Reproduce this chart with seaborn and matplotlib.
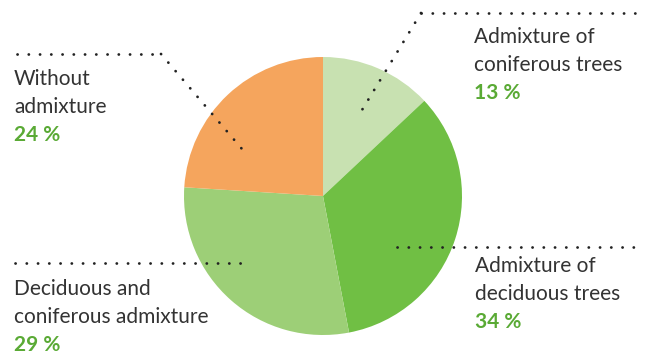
import matplotlib
matplotlib.use("Agg")
import matplotlib.pyplot as plt
import seaborn as sns

# Forest admixture shares (percent)
categories = ["Admixture of\nconiferous trees", "Admixture of\ndeciduous trees",
              "Deciduous and\nconiferous admixture", "Without\nadmixture"]
shares = [13, 34, 29, 24]
pct_labels = [f"{v} %" for v in shares]

sns.set_theme(style="white")
plt.rcParams["font.family"] = ["Lato", "DejaVu Sans"]
plt.rcParams["lines.scale_dashes"] = False

colors = ["#c8e1b1", "#70bf44", "#9dcf77", "#f5a55d"]
text_col = "#333333"
pct_col = "#5aaa35"

W, H = 646, 354
fig = plt.figure(figsize=(W / 100, H / 100), dpi=100)
ax = fig.add_axes([0, 0, 1, 1])

def Y(py):
    return H - py

ax.pie(shares, colors=colors, startangle=90, counterclock=False,
       center=(323, Y(196)), radius=139, frame=True,
       wedgeprops=dict(linewidth=0))
ax.set_xlim(0, W)
ax.set_ylim(0, H)
ax.set_aspect("equal")
ax.axis("off")

dot = dict(color="#222222", linewidth=2.0, dashes=(0.1, 8.0),
           dash_capstyle="round")

# leader lines (pixel layout coordinates)
leaders = [
    [(421, 13), (640, 13)], [(421, 13), (362, 110)],
    [(397, 247), (640, 247)],
    [(15, 263), (243, 263)],
    [(17, 54), (161, 54)], [(161, 54), (242, 149)],
]
for seg in leaders:
    xs = [p[0] for p in seg]
    ys = [Y(p[1]) for p in seg]
    ax.plot(xs, ys, **dot)

# label anchors: left x, first baseline y
anchors = [(474, 43), (475, 272), (14, 295), (14, 85)]
step = 28
fs = 15
for (x, y0), name, pct in zip(anchors, categories, pct_labels):
    lines = name.split("\n")
    for i, ln in enumerate(lines):
        ax.text(x, Y(y0 + i * step), ln, fontsize=fs, color=text_col,
                ha="left", va="baseline")
    ax.text(x, Y(y0 + len(lines) * step), pct, fontsize=fs, color=pct_col,
            fontweight="bold", ha="left", va="baseline")

fig.savefig("out.png", dpi=100)
